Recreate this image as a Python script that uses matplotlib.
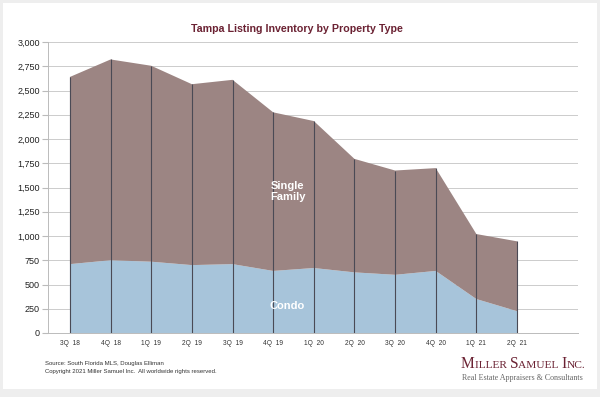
import matplotlib.pyplot as plt
from matplotlib.patches import Rectangle
import numpy as np

plt.rcParams['font.family'] = ['Liberation Sans', 'DejaVu Sans']

quarters = ['3Q  18', '4Q  18', '1Q  19', '2Q  19', '3Q  19', '4Q  19',
            '1Q  20', '2Q  20', '3Q  20', '4Q  20', '1Q  21', '2Q  21']
condo = [710, 750, 735, 700, 710, 640, 670, 625, 600, 640, 350, 225]
total = [2640, 2820, 2755, 2565, 2610, 2275, 2185, 1795, 1675, 1700, 1020, 945]
single_family = [t - c for t, c in zip(total, condo)]

blue = '#A7C4DA'
brown = '#9C8583'
maroon = '#6B2233'

fig = plt.figure(figsize=(6, 3.97), dpi=100, facecolor='#EEEEEE')
fig.patches.append(Rectangle((3 / 600, 1 - 389 / 397), 594 / 600, 386 / 397,
                             transform=fig.transFigure, facecolor='white',
                             edgecolor='none', zorder=-10))

ax = fig.add_axes([48 / 600, 1 - 333 / 397, 530 / 600, 291 / 397])
ax.set_facecolor('none')
x = np.arange(len(quarters))
ax.stackplot(x, condo, single_family, colors=[blue, brown], linewidth=0)
ax.vlines(x, 0, total, color='#4A4A55', linewidth=0.8, zorder=3)

ax.set_xlim(-0.54, 12.5)
ax.set_ylim(0, 3000)
ax.set_yticks(range(0, 3001, 250))
ax.set_yticklabels([f'{v:,}' for v in range(0, 3001, 250)], fontsize=6.5, color='#222222')
ax.set_xticks(x)
ax.set_xticklabels(quarters, fontsize=4.8, color='#333333')
ax.tick_params(axis='x', length=0, pad=5)
ax.tick_params(axis='y', length=4, color='#BBBBBB', pad=2)
ax.grid(axis='y', color='#CCCCCC', linewidth=0.7)
ax.set_axisbelow(True)
for s in ['top', 'right']:
    ax.spines[s].set_visible(False)
for s in ['left', 'bottom']:
    ax.spines[s].set_color('#BBBBBB')
    ax.spines[s].set_linewidth(0.7)

ax.text(5.36, 1460, 'Single\nFamily', color='white', fontsize=8, fontweight='bold',
        ha='center', va='center', linespacing=1.05, zorder=4)
ax.text(5.35, 280, 'Condo', color='white', fontsize=8, fontweight='bold',
        ha='center', va='center', zorder=4)

fig.text(297 / 600, 1 - 29 / 397, 'Tampa Listing Inventory by Property Type',
         ha='center', va='center', fontsize=7.7, fontweight='bold', color=maroon)

fig.text(45 / 600, 1 - 364 / 397, 'Source: South Florida MLS, Douglas Elliman',
         fontsize=4.3, color='#333333', va='center')
fig.text(45 / 600, 1 - 372 / 397,
         'Copyright 2021 Miller Samuel Inc.  All worldwide rights reserved.',
         fontsize=4.3, color='#333333', va='center')

# small-caps company name, built piece by piece
renderer = fig.canvas.get_renderer()
pieces = [('M', 11.2), ('ILLER ', 8.2), ('S', 11.2), ('AMUEL ', 8.2), ('I', 11.2), ('NC.', 8.2)]
xpos = 461
for txt, size in pieces:
    t = fig.text(xpos / 600, 1 - 368 / 397, txt, fontsize=size, color=maroon,
                 family='Liberation Serif', va='baseline')
    bb = t.get_window_extent(renderer)
    xpos += bb.width
fig.text(462 / 600, 1 - 380 / 397, 'Real Estate Appraisers & Consultants',
         fontsize=5.8, color='#666666', family='Liberation Serif', va='baseline')

fig.savefig('out.png', dpi=100, facecolor=fig.get_facecolor())
